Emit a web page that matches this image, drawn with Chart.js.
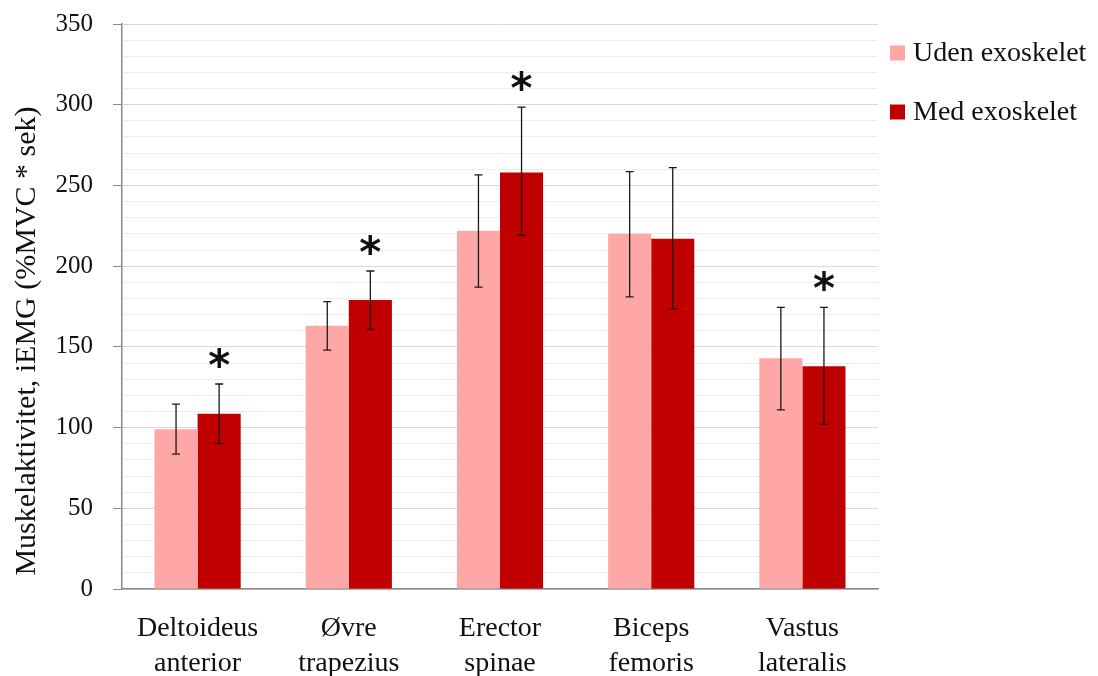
<!DOCTYPE html>
<html>
<head>
<meta charset="utf-8">
<script src="https://cdn.jsdelivr.net/npm/chart.js@4.4.1/dist/chart.umd.min.js"></script>
<style>
  html, body { margin: 0; padding: 0; background: #fff; }
  #wrap { width: 1098px; height: 676px; position: relative; }
</style>
</head>
<body>
<div id="wrap"><canvas id="c" width="1098" height="676"></canvas></div>
<script>
// ---- Data ----
const categories = [
  ['Deltoideus', 'anterior'],
  ['Øvre', 'trapezius'],
  ['Erector', 'spinae'],
  ['Biceps', 'femoris'],
  ['Vastus', 'lateralis']
];
const seriesNames = ['Uden exoskelet', 'Med exoskelet'];
const udenValues = [99, 163, 222, 220, 143];
const udenLow    = [83.5, 148, 187, 181, 111];
const udenHigh   = [114.5, 178, 256.5, 258.5, 174.5];
const medValues  = [108.5, 179, 258, 217, 138];
const medLow     = [90, 161, 219, 173.5, 102];
const medHigh    = [127, 197, 298.5, 261, 174.5];
const medSignificant = [true, true, true, false, true];
const yTitle = 'Muskelaktivitet, iEMG (%MVC * sek)';
const yMin = 0, yMax = 350, yMinorStep = 10, yMajorStep = 50;

const FONT = '"Liberation Serif", "Times New Roman", serif';
const colors = ['#FFA7A7', '#C00000'];

const errorBars = [
  { low: udenLow, high: udenHigh },
  { low: medLow, high: medHigh }
];

const errorBarPlugin = {
  id: 'errorBars',
  afterDatasetsDraw(chart) {
    const ctx = chart.ctx;
    const y = chart.scales.y;
    ctx.save();
    ctx.strokeStyle = '#1a1a1a';
    ctx.lineWidth = 1.3;
    chart.data.datasets.forEach((ds, di) => {
      const meta = chart.getDatasetMeta(di);
      meta.data.forEach((bar, i) => {
        const x = bar.x;
        const yl = y.getPixelForValue(errorBars[di].low[i]);
        const yh = y.getPixelForValue(errorBars[di].high[i]);
        const cap = 4;
        ctx.beginPath();
        ctx.moveTo(x, yl); ctx.lineTo(x, yh);
        ctx.moveTo(x - cap, yl); ctx.lineTo(x + cap, yl);
        ctx.moveTo(x - cap, yh); ctx.lineTo(x + cap, yh);
        ctx.stroke();
      });
    });
    // significance asterisks above "Med" bars
    const meta = chart.getDatasetMeta(1);
    ctx.fillStyle = '#111';
    ctx.font = 'bold 42px "DejaVu Sans", sans-serif';
    ctx.textAlign = 'center';
    ctx.textBaseline = 'alphabetic';
    meta.data.forEach((bar, i) => {
      if (!medSignificant[i]) return;
      const yh = y.getPixelForValue(medHigh[i]);
      ctx.fillText('*', bar.x, yh - 4);
    });
    ctx.restore();
  }
};

const customDecor = {
  id: 'customDecor',
  afterDraw(chart) {
    const ctx = chart.ctx;
    const area = chart.chartArea;
    ctx.save();
    // y-axis title
    ctx.fillStyle = '#111';
    ctx.font = '30px ' + FONT;
    ctx.textAlign = 'center';
    ctx.textBaseline = 'middle';
    ctx.translate(27, 341);
    ctx.rotate(-Math.PI / 2);
    ctx.fillText(yTitle, 0, 0);
    ctx.restore();
    // legend
    ctx.save();
    const lx = area.right + 12;
    const rowY = [53, 112];
    chart.data.datasets.forEach((ds, i) => {
      ctx.fillStyle = ds.backgroundColor;
      ctx.fillRect(lx, rowY[i] - 7.5, 15, 15);
      ctx.fillStyle = '#111';
      ctx.font = '28px ' + FONT;
      ctx.textAlign = 'left';
      ctx.textBaseline = 'middle';
      ctx.fillText(ds.label, lx + 23, rowY[i] + 1);
    });
    ctx.restore();
  }
};

new Chart(document.getElementById('c'), {
  type: 'bar',
  data: {
    labels: categories,
    datasets: [
      { label: seriesNames[0], data: udenValues, backgroundColor: colors[0],
        categoryPercentage: 0.57, barPercentage: 1.0 },
      { label: seriesNames[1], data: medValues, backgroundColor: colors[1],
        categoryPercentage: 0.57, barPercentage: 1.0 }
    ]
  },
  options: {
    responsive: false,
    animation: false,
    devicePixelRatio: 1,
    layout: { padding: { left: 0, right: 220, top: 24, bottom: 0 } },
    plugins: {
      legend: { display: false },
      tooltip: { enabled: false },
      title: { display: false }
    },
    scales: {
      x: {
        grid: { display: false, drawTicks: false },
        border: { display: true, color: '#8a8a8a', width: 1.5 },
        ticks: {
          color: '#111',
          font: { family: FONT, size: 28, lineHeight: 1.25 },
          padding: 22,
          maxRotation: 0,
          autoSkip: false
        },
        afterFit(scale) { scale.height = 87; scale.paddingLeft = 0; scale.paddingRight = 0; }
      },
      y: {
        min: yMin, max: yMax,
        grid: {
          color: c => (c.tick && c.tick.value % yMajorStep === 0) ? '#d9d9d9' : '#ededed',
          tickColor: c => (c.tick && c.tick.value % yMajorStep === 0) ? '#8a8a8a' : 'rgba(0,0,0,0)',
          tickLength: 9,
          lineWidth: 1
        },
        border: { display: true, color: '#8a8a8a', width: 1.5 },
        ticks: {
          stepSize: yMinorStep,
          autoSkip: false,
          color: '#111',
          padding: 20,
          font: { family: FONT, size: 25 },
          callback: v => (v % yMajorStep === 0 ? String(v) : '')
        },
        afterFit(scale) { scale.width = 122; scale.paddingTop = 0; scale.paddingBottom = 0; }
      }
    }
  },
  plugins: [errorBarPlugin, customDecor]
});
</script>
</body>
</html>
